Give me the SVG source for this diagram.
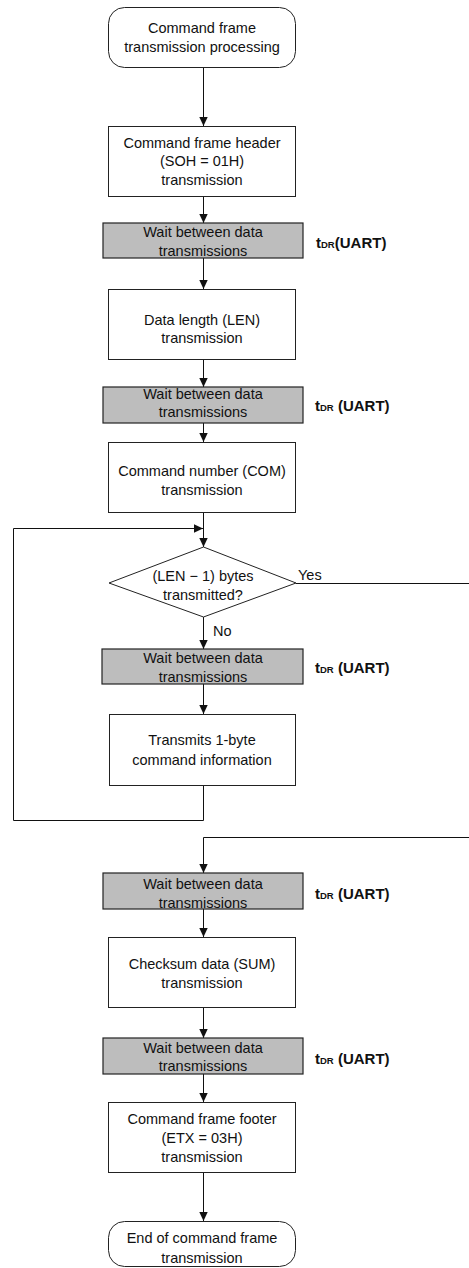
<svg xmlns="http://www.w3.org/2000/svg" width="469" height="1268" viewBox="0 0 469 1268">
<style>
.box{fill:#fff;stroke:#222;stroke-width:1}
.wait{fill:#bdbdbd;stroke:#222;stroke-width:1.2}
.t{font-family:"Liberation Sans",Arial,sans-serif;font-size:14.5px;fill:#111;text-anchor:middle}
.lbl{font-family:"Liberation Sans",Arial,sans-serif;font-size:14.5px;fill:#111}
.td{font-family:"Liberation Sans",Arial,sans-serif;font-size:15px;font-weight:bold;fill:#111}
.sub{font-size:9.5px}
.c{fill:none;stroke:#111;stroke-width:1}
</style>
<defs>
<marker id="ah" markerUnits="userSpaceOnUse" markerWidth="10" markerHeight="10" refX="9" refY="5" orient="auto">
<path d="M0,0.8 L9,5 L0,9.2 Z" fill="#111"/>
</marker>
</defs>
<g id="connectors">
<path class="c" d="M203.5,67 V126" marker-end="url(#ah)"/>
<path class="c" d="M203.5,197 V223" marker-end="url(#ah)"/>
<path class="c" d="M203.5,258 V289" marker-end="url(#ah)"/>
<path class="c" d="M203.5,360 V387" marker-end="url(#ah)"/>
<path class="c" d="M203.5,423 V442" marker-end="url(#ah)"/>
<path class="c" d="M203.5,512 V547" marker-end="url(#ah)"/>
<path class="c" d="M203.5,786 V820.5 H13.5 V528.5 H203" marker-end="url(#ah)"/>
<path class="c" d="M203.5,617 V649" marker-end="url(#ah)"/>
<path class="c" d="M203.5,684 V714" marker-end="url(#ah)"/>
<path class="c" d="M296,583.5 H472 V837.5 H203.5 V873" marker-end="url(#ah)"/>
<path class="c" d="M203.5,909 V937" marker-end="url(#ah)"/>
<path class="c" d="M203.5,1007 V1038" marker-end="url(#ah)"/>
<path class="c" d="M203.5,1074 V1102" marker-end="url(#ah)"/>
<path class="c" d="M203.5,1173 V1221" marker-end="url(#ah)"/>
<text class="lbl" x="298" y="580">Yes</text>
<text class="lbl" x="213" y="636">No</text>
</g>
<g id="start">
<rect class="box" x="108.5" y="7.5" width="187" height="60" rx="16"/>
<text class="t" x="202" y="33">Command frame</text>
<text class="t" x="202" y="52">transmission processing</text>
</g>
<g id="header">
<rect class="box" x="108.5" y="126.5" width="187" height="70"/>
<text class="t" x="202" y="148">Command frame header</text>
<text class="t" x="202" y="166">(SOH = 01H)</text>
<text class="t" x="202" y="185">transmission</text>
</g>
<g id="wait1">
<rect class="wait" x="103" y="223" width="200" height="35"/>
<text class="t" x="203" y="237">Wait between data</text>
<text class="t" x="203" y="256">transmissions</text>
<text class="td" x="316" y="248">t<tspan class="sub">DR</tspan>(UART)</text>
</g>
<g id="len">
<rect class="box" x="108.5" y="289.5" width="187" height="70"/>
<text class="t" x="202" y="325">Data length (LEN)</text>
<text class="t" x="202" y="343">transmission</text>
</g>
<g id="wait2">
<rect class="wait" x="103" y="387" width="200" height="36"/>
<text class="t" x="203" y="399">Wait between data</text>
<text class="t" x="203" y="417">transmissions</text>
<text class="td" x="315" y="411">t<tspan class="sub">DR</tspan> (UART)</text>
</g>
<g id="com">
<rect class="box" x="108.5" y="442.5" width="187" height="70"/>
<text class="t" x="202" y="476">Command number (COM)</text>
<text class="t" x="202" y="495">transmission</text>
</g>
<g id="decision">
<polygon class="box" points="203.5,547 296,583 203.5,617 109,583"/>
<text class="t" x="203" y="581">(LEN − 1) bytes</text>
<text class="t" x="203" y="600">transmitted?</text>
</g>
<g id="wait3">
<rect class="wait" x="102" y="649" width="201" height="35"/>
<text class="t" x="203" y="663">Wait between data</text>
<text class="t" x="203" y="682">transmissions</text>
<text class="td" x="315" y="673">t<tspan class="sub">DR</tspan> (UART)</text>
</g>
<g id="byte">
<rect class="box" x="109.5" y="714.5" width="186" height="71"/>
<text class="t" x="202" y="745">Transmits 1-byte</text>
<text class="t" x="202" y="765">command information</text>
</g>
<g id="wait4">
<rect class="wait" x="103" y="873" width="200" height="36"/>
<text class="t" x="203" y="889">Wait between data</text>
<text class="t" x="203" y="908">transmissions</text>
<text class="td" x="315" y="899">t<tspan class="sub">DR</tspan> (UART)</text>
</g>
<g id="sum">
<rect class="box" x="108.5" y="937.5" width="187" height="70"/>
<text class="t" x="202" y="969">Checksum data (SUM)</text>
<text class="t" x="202" y="988">transmission</text>
</g>
<g id="wait5">
<rect class="wait" x="103" y="1038" width="200" height="36"/>
<text class="t" x="203" y="1053">Wait between data</text>
<text class="t" x="203" y="1071">transmissions</text>
<text class="td" x="315" y="1064">t<tspan class="sub">DR</tspan> (UART)</text>
</g>
<g id="footer">
<rect class="box" x="108.5" y="1102.5" width="187" height="70"/>
<text class="t" x="202" y="1124">Command frame footer</text>
<text class="t" x="202" y="1143">(ETX = 03H)</text>
<text class="t" x="202" y="1162">transmission</text>
</g>
<g id="end">
<rect class="box" x="108.5" y="1221.5" width="187" height="45" rx="16"/>
<text class="t" x="202" y="1243">End of command frame</text>
<text class="t" x="202" y="1263">transmission</text>
</g>
</svg>
